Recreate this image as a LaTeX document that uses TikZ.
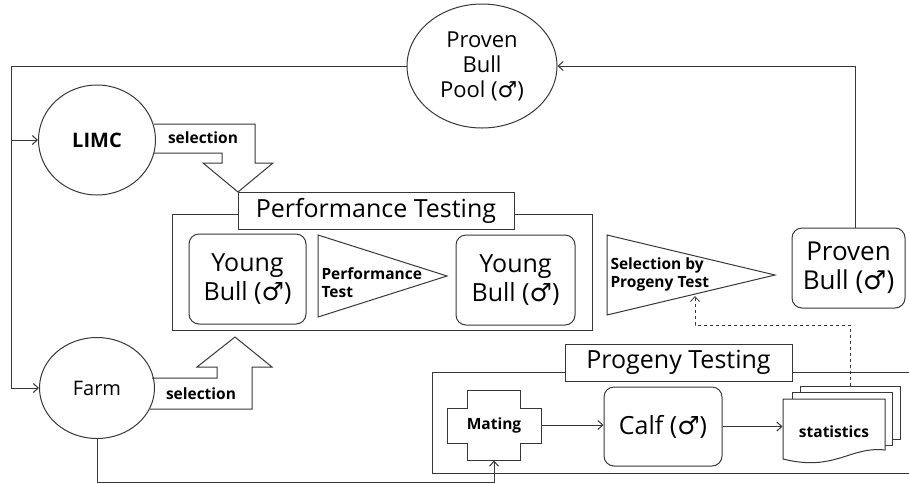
\documentclass[tikz,border=0pt]{standalone}
\usepackage{fontspec}
\setmainfont{Open Sans}
\newfontfamily\malefont{DejaVu Sans}
\newcommand{\malesym}{{\malefont ♂}}
\usepackage{tikz}
\usetikzlibrary{
arrows.meta,
positioning,
shapes.geometric,
calc
}
\definecolor{lineclr}{RGB}{55,55,55}

\begin{document}
\begin{tikzpicture}[
  x=1pt, y=-1pt,
  line width=1pt,
  every node/.style={font=\fontsize{21}{25}\selectfont},
  arr/.style={draw=lineclr, -{Straight Barb[length=5pt, width=9pt]}},
  line/.style={draw=lineclr},
  circ/.style={draw=lineclr, ellipse, inner sep=0pt, align=center},
  bullbox/.style={draw=lineclr, rounded corners=10pt, inner sep=0pt,
                  align=center, font=\fontsize{25}{29}\selectfont},
  titlebox/.style={draw=lineclr, fill=white, inner sep=0pt,
                   font=\fontsize{25}{28}\selectfont},
  small/.style={font=\bfseries\fontsize{15.5}{18}\selectfont, align=left}
]
\useasboundingbox (0,0) rectangle (909,483);

%% ── SOURCES ─────────────────────────────────────────────────────
\node[circ, minimum width=150pt, minimum height=124pt,
      font=\fontsize{22}{25}\selectfont] (pool) at (482,66)
  {Proven\\Bull\\Pool (\malesym)};
\node[circ, minimum width=117pt, minimum height=110pt,
      font=\bfseries\fontsize{20}{22}\selectfont] (limc) at (97,140) {LIMC};
\node[circ, minimum width=115pt, minimum height=101pt,
      font=\fontsize{20}{22}\selectfont] (farm) at (97,388) {Farm};

%% ── FEEDBACK LOOP ───────────────────────────────────────────────
\coordinate (lt) at (11,66);
\coordinate (lm) at (11,140);
\coordinate (lb) at (11,388);
\draw[line] (pool.west) -- (lt) -- (lb);
\draw[arr] (lm) -- (limc.west);
\draw[arr] (lb) -- (farm.west);

%% ── SELECTION ARROWS ────────────────────────────────────────────
\draw[line, line join=miter]
  (154,124) -- (255,124) -- (255,163) -- (273,163) -- (238,192)
  -- (203,163) -- (222,163) -- (222,153) -- (154,153);
\node[small] (sel1) at (203,138) {selection};

\draw[line, line join=miter]
  (152,378) -- (217,378) -- (217,367) -- (197,367) -- (235,337)
  -- (272,367) -- (252,367) -- (252,409) -- (150,409);
\node[small] (sel2) at (201,394) {selection};

%% ── PERFORMANCE TESTING ─────────────────────────────────────────
\draw[line] (172,214) rectangle (592,330);
\node[titlebox, minimum width=276pt, minimum height=37pt] (perftitle)
  at (376,210.5) {Performance Testing};

\node[bullbox, minimum width=117pt, minimum height=90pt] (young1)
  at (247.5,279) {Young\\Bull (\malesym)};
\draw[line, line join=miter] (318,235) -- (447,276) -- (318,317) -- cycle;
\node[small, anchor=west, inner sep=0pt] (perftest) at (321,283)
  {Performance\\Test};
\node[bullbox, minimum width=119pt, minimum height=90pt] (young2)
  at (515.5,280) {Young\\Bull (\malesym)};

%% ── SELECTION BY PROGENY TEST ───────────────────────────────────
\draw[line, line join=miter] (607,235) -- (775,275) -- (607,315) -- cycle;
\node[small, anchor=west, inner sep=0pt] (progsel) at (610,274)
  {Selection by\\Progeny Test};
\coordinate (seltip) at (695,296);

\node[bullbox, minimum width=113pt, minimum height=80pt,
      font=\fontsize{26}{29}\selectfont] (proven) at (848.5,268)
  {Proven\\Bull (\malesym)};
\coordinate (pr) at (855,66);
\draw[arr] (proven.north -| pr) -- (pr) -- (pool.east);

%% ── PROGENY TESTING ─────────────────────────────────────────────
\draw[line] (432,372) rectangle (915,473);
\node[titlebox, minimum width=227pt, minimum height=37pt] (progtitle)
  at (678.5,362.5) {Progeny Testing};

%% mating (cross shape)
\draw[line, line join=miter]
  (467,390) -- (520,390) -- (520,408) -- (541,408) -- (541,443)
  -- (520,443) -- (520,460) -- (467,460) -- (467,443) -- (447,443)
  -- (447,408) -- (467,408) -- cycle;
\node[small, minimum width=94pt, minimum height=70pt, inner sep=0pt,
      align=center] (mating) at (494,425) {Mating};

\node[bullbox, minimum width=118pt, minimum height=79pt] (calf)
  at (663,426.5) {Calf (\malesym)};

%% statistics (stacked documents)
\draw[line, fill=white] (800,386) rectangle (900,439);
\draw[line, fill=white] (792,392) rectangle (892,445);
\draw[line, fill=white]
  (783,399) -- (885,399) -- (885,450)
  .. controls (850,446) and (835,472) .. (783,459) -- cycle;
\node[small, minimum width=102pt, inner sep=0pt, align=center]
  (stats) at (834,432) {statistics};

\draw[arr] (farm.south) |- (97,482) -| (mating.south);
\draw[arr] (mating.east) -- (calf.west |- mating.east);
\draw[arr] (calf.east) -- (calf.east -| stats.west);

%% dashed feedback to selection
\coordinate (st) at (850,386);
\coordinate (sm) at (850,325);
\draw[arr, dashed, line width=0.8pt] (st) -- (sm) -| (seltip);

\end{tikzpicture}
\end{document}
